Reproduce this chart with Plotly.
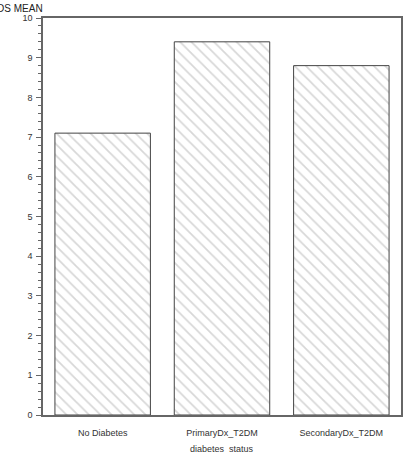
import plotly.graph_objects as go

categories = ["No Diabetes", "PrimaryDx_T2DM", "SecondaryDx_T2DM"]
los_mean = [7.1, 9.4, 8.8]

fig = go.Figure()
fig.add_trace(go.Bar(
    x=categories, y=los_mean, width=0.8,
    marker=dict(color="white", line=dict(color="#444", width=1),
                pattern=dict(shape="\\", fgcolor="#b0b0b0", bgcolor="white", size=8, solidity=0.22)),
))
fig.update_layout(
    width=408, height=454, margin=dict(l=43, r=5, t=18, b=39),
    plot_bgcolor="white", paper_bgcolor="white", showlegend=False,
    font=dict(family="Liberation Sans, Arial", size=9, color="#333"),
    bargap=0.2,
)
fig.update_xaxes(showline=True, linecolor="#666", linewidth=1.5, mirror=True, ticks="",
                 ticklabelstandoff=8)
fig.update_yaxes(range=[0, 10], dtick=1, showline=True, linecolor="#666", linewidth=1.5, mirror=True,
                 ticks="outside", ticklen=5, tickcolor="#666", showgrid=False, zeroline=False,
                 ticklabelstandoff=2,
                 minor=dict(dtick=0.2, ticks="outside", ticklen=3, tickcolor="#666"))
fig.add_annotation(text="LOS MEAN", xref="paper", yref="paper", x=0, y=1, xanchor="right", yanchor="bottom",
                   xshift=2, yshift=2, showarrow=False, font=dict(size=10, color="#222"))
fig.add_annotation(text="diabetes  status", xref="paper", yref="paper", x=0.5, y=0, xanchor="center",
                   yanchor="middle", yshift=-34, showarrow=False, font=dict(size=9, color="#333"))
fig.write_html("out.html")
